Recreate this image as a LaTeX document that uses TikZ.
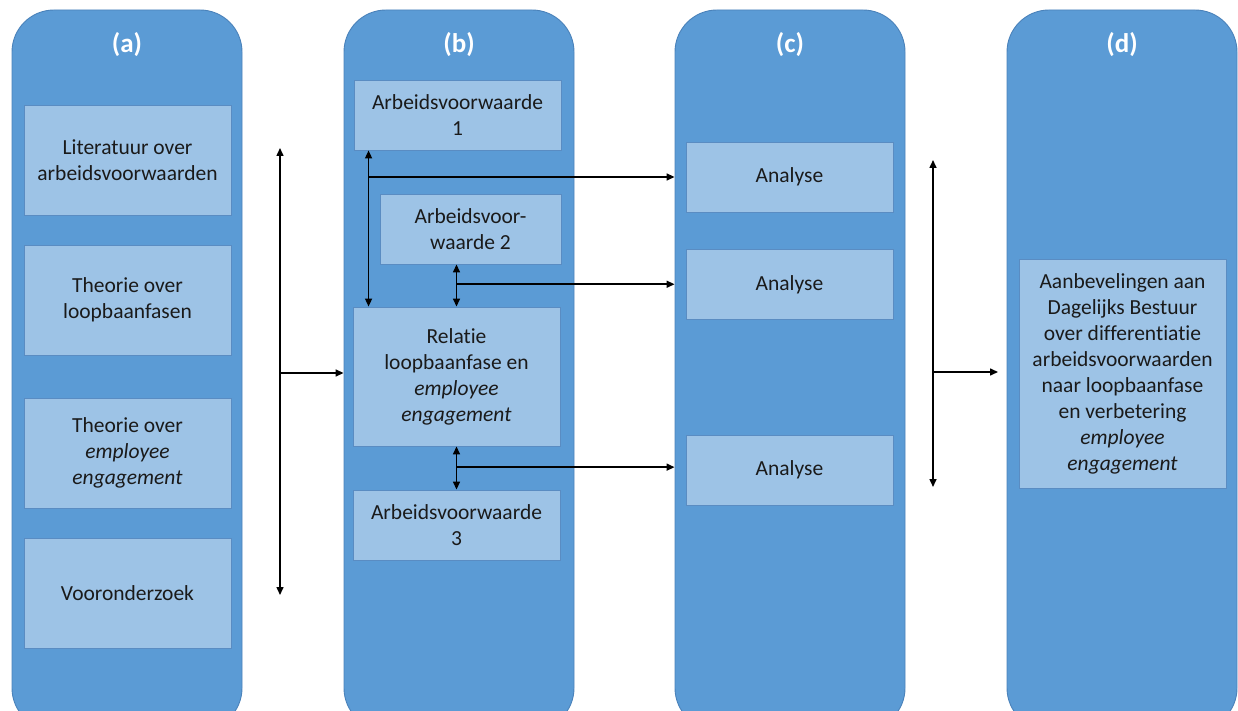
\documentclass[tikz,border=0pt]{standalone}
\usepackage{fontspec}
\setmainfont{Carlito}[Ligatures=NoCommon,RawFeature={-clig;-dlig}]
\usetikzlibrary{arrows.meta,calc}
\definecolor{colfill}{HTML}{5B9BD5}
\definecolor{colline}{HTML}{4A82BA}
\definecolor{boxfill}{HTML}{9DC3E6}
\definecolor{boxline}{HTML}{5A8CC2}
\definecolor{ink}{HTML}{1A1A1A}
\tikzset{
  column/.style={draw=colline, line width=0.9pt, fill=colfill, rounded corners=42pt,
    minimum width=230pt, minimum height=720pt, inner sep=0pt},
  header/.style={text=white, font=\fontsize{27}{30}\selectfont\bfseries},
  box/.style={draw=boxline, line width=0.9pt, fill=boxfill, text=ink, align=center,
    inner sep=2pt, font=\fontsize{21.5}{26}\selectfont},
  link/.style={line width=1.5pt, black, -{Triangle[length=8pt,width=7pt]}},
  twoway/.style={line width=1.5pt, black, {Triangle[length=8pt,width=7pt]}-{Triangle[length=8pt,width=7pt]}}
}
\begin{document}
\begin{tikzpicture}[x=1pt,y=-1pt]
\useasboundingbox (0,0) rectangle (1238,711);
\clip (0,0) rectangle (1238,711);

% four phase columns
\node[column] (colA) at (127,370) {};
\node[column] (colB) at (459,370) {};
\node[column] (colC) at (790,370) {};
\node[column] (colD) at (1122,370) {};

\node[header] (hA) at (127,45) {(a)};
\node[header] (hB) at (459,45) {(b)};
\node[header] (hC) at (790,45) {(c)};
\node[header] (hD) at (1122,45) {(d)};

% (a) inputs
\node[box, minimum width=207pt, minimum height=110pt] (lit) at (127.5,160) {Literatuur over\\arbeidsvoorwaarden};
\node[box, minimum width=207pt, minimum height=110pt] (loop) at (127.5,300) {Theorie over\\loopbaanfasen};
\node[box, minimum width=207pt, minimum height=110pt] (eng) at (127.5,453) {Theorie over\\\textit{employee}\\\textit{engagement}};
\node[box, minimum width=207pt, minimum height=110pt] (voor) at (127.5,593) {Vooronderzoek};

% (b) conditions and relation
\node[box, minimum width=207pt, minimum height=70pt] (av1) at (457.5,115) {Arbeidsvoorwaarde\\1};
\node[box, minimum width=181pt, minimum height=70pt] (av2) at (470.5,229) {Arbeidsvoor-\\waarde 2};
\node[box, minimum width=207pt, minimum height=139pt] (rel) at (456.5,376.5) {Relatie\\loopbaanfase en\\\textit{employee}\\\textit{engagement}};
\node[box, minimum width=207pt, minimum height=70pt] (av3) at (456.5,525) {Arbeidsvoorwaarde\\3};

% (c) analyses
\node[box, minimum width=207pt, minimum height=70pt] (an1) at (789.5,177) {Analyse};
\node[box, minimum width=207pt, minimum height=70pt] (an2) at (789.5,284.5) {Analyse};
\node[box, minimum width=207pt, minimum height=70pt] (an3) at (789.5,470) {Analyse};

% (d) recommendations
\node[box, minimum width=207pt, minimum height=229pt] (adv) at (1122.5,373.5) {Aanbevelingen aan\\Dagelijks Bestuur\\over differentiatie\\arbeidsvoorwaarden\\naar loopbaanfase\\en verbetering\\\textit{employee}\\\textit{engagement}};

% (a) -> (b)
\coordinate (l1t) at (280,148);
\coordinate (l1b) at (280,595);
\coordinate (l1m) at (280,373);
\draw[twoway] (l1t) -- (l1b);
\draw[link] (l1m) -- (l1m -| colB.west);

% (b) internal links and (b) -> (c)
\coordinate (v1t) at ($(av1.south west)+(15,0)$);
\coordinate (v1b) at ($(rel.north west)+(16,0)$);
\draw[twoway] (v1t) -- (v1b);
\coordinate (j1) at ($(v1t)!0.17!(v1b)$);
\draw[link] (j1) -- (j1 -| colC.west);

\draw[twoway] (av2.south -| rel.north) -- (rel.north);
\coordinate (j2) at ($(av2.south -| rel.north)!0.47!(rel.north)$);
\draw[link] (j2) -- (j2 -| colC.west);

\draw[twoway] (rel.south) -- (av3.north);
\coordinate (j3) at ($(rel.south)!0.48!(av3.north)$);
\draw[link] (j3) -- (j3 -| colC.west);

% (c) -> (d)
\coordinate (r1t) at (933,160);
\coordinate (r1b) at (933,487);
\coordinate (r1m) at (933,372);
\coordinate (r1e) at (998,372);
\draw[twoway] (r1t) -- (r1b);
\draw[link] (r1m) -- (r1e);
\end{tikzpicture}
\end{document}
